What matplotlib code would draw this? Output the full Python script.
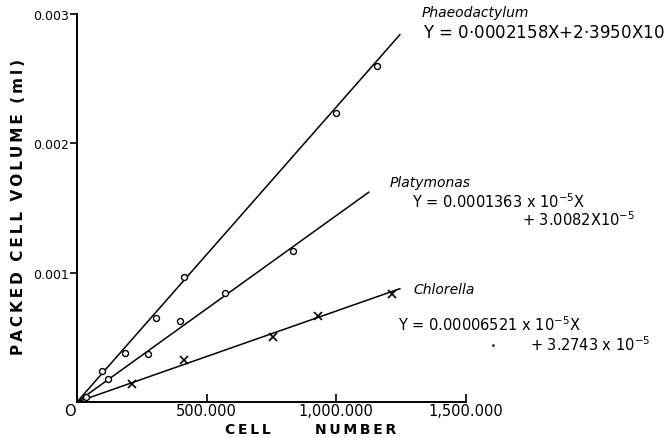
import matplotlib
matplotlib.use("Agg")
import matplotlib.pyplot as plt

# ---- data ----
phaeo_x = [97800, 185600, 304000, 411000, 1000000, 1155000]
phaeo_y = [0.000238, 0.000382, 0.000650, 0.000967, 0.002236, 0.002598]
phaeo_line_x = [0, 1245000]
phaeo_line_y = [0, 0.00284]

platy_x = [33600, 118700, 275700, 398000, 572000, 831000]
platy_y = [0.000040, 0.000176, 0.000369, 0.000624, 0.000846, 0.001166]
platy_line_x = [0, 1125000]
platy_line_y = [0, 0.001622]

chlor_x = [211500, 413700, 756000, 928000, 1214000]
chlor_y = [0.000143, 0.000323, 0.000503, 0.000668, 0.000838]
chlor_line_x = [0, 1245000]
chlor_line_y = [0, 0.000876]

xticks = [500000, 1000000, 1500000]
xticklabels = ["500.000", "1,000.000", "1,500.000"]
yticks = [0.001, 0.002, 0.003]
yticklabels = ["0.001", "0.002", "0.003"]

W, H = 665, 439
fig = plt.figure(figsize=(W / 100, H / 100), dpi=100)
fig.patch.set_facecolor("white")

def fx(x):
    return x / W

def fy(y):
    return 1 - y / H

left, right, bottom, top = 77, 466, 403, 15
ax = fig.add_axes([fx(left), fy(bottom), fx(right) - fx(left), fy(top) - fy(bottom)])
ax.set_xlim(0, 1500000)
ax.set_ylim(0, 0.003)
for s in ["top", "right"]:
    ax.spines[s].set_visible(False)
for s in ["left", "bottom"]:
    ax.spines[s].set_linewidth(1.4)
    ax.spines[s].set_color("black")

ax.plot(phaeo_line_x, phaeo_line_y, color="black", lw=1.1)
ax.plot(platy_line_x, platy_line_y, color="black", lw=1.1)
ax.plot(chlor_line_x, chlor_line_y, color="black", lw=1.1)
ax.plot(phaeo_x, phaeo_y, "o", mfc="white", mec="black", ms=4.3, mew=1.0)
ax.plot(platy_x, platy_y, "o", mfc="white", mec="black", ms=4.3, mew=1.0)
ax.plot(chlor_x, chlor_y, "x", color="black", ms=6, mew=1.2)

ax.set_xticks(xticks)
ax.set_xticklabels(xticklabels, fontsize=10.5)
ax.set_yticks(yticks)
ax.set_yticklabels(yticklabels, fontsize=9)
ax.tick_params(axis="x", direction="in", length=6, width=1.2, pad=1)
ax.tick_params(axis="y", direction="out", length=5, width=1.2, pad=1)

# origin label
fig.text(fx(70), fy(412), "O", fontsize=10.5, ha="center", va="center")

ts = "\u2009"
def spaced(s):
    return ts.join(s)

fig.text(fx(248), fy(430), spaced("CELL"), fontsize=10, fontweight="bold",
         ha="center", va="center")
fig.text(fx(356), fy(430), spaced("NUMBER"), fontsize=10, fontweight="bold",
         ha="center", va="center")
ylab = "  ".join(spaced(w) for w in ["PACKED", "CELL", "VOLUME", "(ml)"])
fig.text(fx(19), fy(207), ylab, fontsize=11, fontweight="bold",
         rotation=90, ha="center", va="center")

# annotations
fig.text(fx(422), fy(13), "Phaeodactylum", fontsize=10, style="italic",
         ha="left", va="center")
fig.text(fx(423), fy(33), "Y = 0·0002158X+2·3950X10$^{-5}$", fontsize=12,
         ha="left", va="center")

fig.text(fx(390), fy(183), "Platymonas", fontsize=10, style="italic",
         ha="left", va="center")
fig.text(fx(412), fy(202), "Y = 0.0001363 x 10$^{-5}$X", fontsize=10.5,
         ha="left", va="center")
fig.text(fx(522), fy(220), "+ 3.0082X10$^{-5}$", fontsize=10.5,
         ha="left", va="center")

fig.text(fx(413), fy(290), "Chlorella", fontsize=10, style="italic",
         ha="left", va="center")
fig.text(fx(398), fy(325), "Y = 0.00006521 x 10$^{-5}$X", fontsize=10.5,
         ha="left", va="center")
fig.text(fx(493), fy(347), "•", fontsize=6, ha="center", va="center")
fig.text(fx(530), fy(345), "+ 3.2743 x 10$^{-5}$", fontsize=10.5,
         ha="left", va="center")

fig.savefig("out.png", dpi=100, facecolor="white")
